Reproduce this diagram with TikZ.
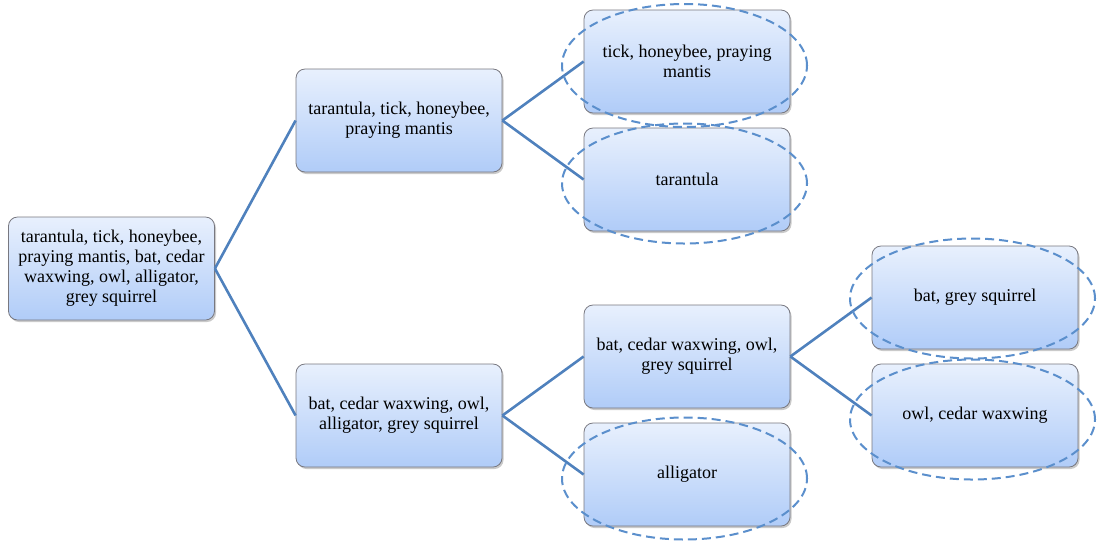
\documentclass[tikz,border=0pt]{standalone}
\usepackage{fontspec}
\setmainfont{Liberation Serif}
\usetikzlibrary{shadows}
\definecolor{linkblue}{RGB}{79,129,189}
\definecolor{ringblue}{RGB}{91,143,204}
\definecolor{boxtop}{RGB}{232,240,253}
\definecolor{boxbot}{RGB}{176,204,248}
\definecolor{boxedge}{RGB}{120,120,128}
\tikzset{
  leaf/.style={draw=boxedge, line width=0.8pt, rounded corners=9pt,
    top color=boxtop, bottom color=boxbot,
    drop shadow={shadow xshift=1.5pt, shadow yshift=-2pt, opacity=0.35, fill=black!60},
    minimum width=206pt, minimum height=103pt, align=center, inner sep=3pt,
    font=\fontsize{18}{20}\selectfont},
  link/.style={draw=linkblue, line width=2.6pt},
  ring/.style={draw=ringblue, line width=2pt, dash pattern=on 9pt off 5pt}
}
\begin{document}
\begin{tikzpicture}[x=1pt,y=-1pt]
\useasboundingbox (0,0) rectangle (1099,550);
\node[leaf] (root) at (111.5,268.5) {tarantula, tick, honeybee,\\praying mantis, bat, cedar\\waxwing, owl, alligator,\\grey squirrel};
\node[leaf] (a) at (399,120.5) {tarantula, tick, honeybee,\\praying mantis};
\node[leaf] (b) at (399,415.5) {bat, cedar waxwing, owl,\\alligator, grey squirrel};
\node[leaf] (c) at (687,61.5) {tick, honeybee, praying\\mantis};
\node[leaf] (d) at (687,179.5) {tarantula};
\node[leaf] (e) at (687,356.5) {bat, cedar waxwing, owl,\\grey squirrel};
\node[leaf] (f) at (687,474.5) {alligator};
\node[leaf] (g) at (975,297.5) {bat, grey squirrel};
\node[leaf] (h) at (975,415.5) {owl, cedar waxwing};
\draw[link] (root.east) -- (a.west);
\draw[link] (root.east) -- (b.west);
\draw[link] (a.east) -- (c.west);
\draw[link] (a.east) -- (d.west);
\draw[link] (b.east) -- (e.west);
\draw[link] (b.east) -- (f.west);
\draw[link] (e.east) -- (g.west);
\draw[link] (e.east) -- (h.west);
\draw[ring] ([xshift=-2.5pt,yshift=-4pt]c.center) ellipse [x radius=122.5pt, y radius=61.5pt];
\draw[ring] ([xshift=-2.5pt,yshift=-4pt]d.center) ellipse [x radius=122.5pt, y radius=60pt];
\draw[ring] ([xshift=-2.5pt,yshift=-4pt]f.center) ellipse [x radius=122.5pt, y radius=61pt];
\draw[ring] ([xshift=-2.5pt,yshift=-1pt]g.center) ellipse [x radius=122.5pt, y radius=60pt];
\draw[ring] ([xshift=-2.5pt,yshift=-4pt]h.center) ellipse [x radius=122.5pt, y radius=60pt];
\end{tikzpicture}
\end{document}
